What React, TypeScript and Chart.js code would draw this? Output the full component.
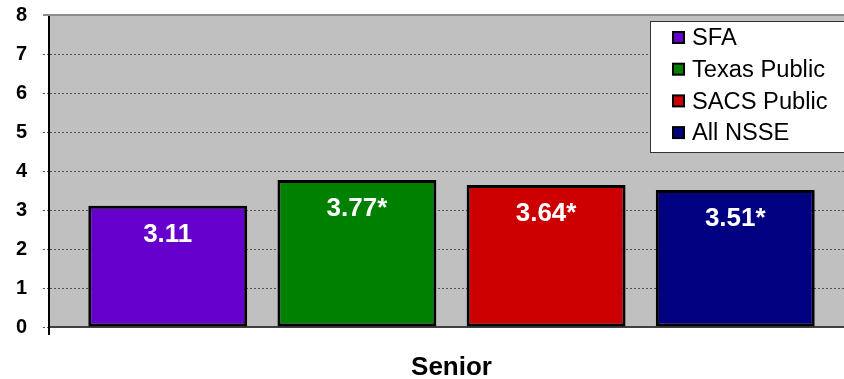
import React, { useEffect, useRef } from 'react';
import { Chart, registerables } from 'chart.js';

Chart.register(...registerables);

const categories = ['Senior'];
const seriesNames = ['SFA', 'Texas Public', 'SACS Public', 'All NSSE'];
const seriesValues = [3.11, 3.77, 3.64, 3.51];
const significant = [false, true, true, true];
const seriesColors = ['#6600CC', '#008000', '#CC0000', '#000080'];
const yMin = 0;
const yMax = 8;
const yStep = 1;

const FONT = '"Liberation Sans", Arial, Helvetica, sans-serif';

const plotPlugin = {
  id: 'plotDecor',
  beforeDraw(chart: any) {
    const { ctx, chartArea: a } = chart;
    ctx.save();
    ctx.fillStyle = '#C0C0C0';
    ctx.fillRect(a.left, a.top, a.right - a.left, a.bottom - a.top);
    ctx.restore();
  },
  afterDatasetsDraw(chart: any) {
    const { ctx, chartArea: a } = chart;
    ctx.save();
    // top border of plot
    ctx.strokeStyle = '#8C8C8C';
    ctx.lineWidth = 2;
    ctx.beginPath();
    ctx.moveTo(a.left - 6, a.top);
    ctx.lineTo(a.right, a.top);
    ctx.stroke();

    // value labels
    ctx.fillStyle = '#FFFFFF';
    ctx.font = `bold 25px ${FONT}`;
    ctx.textAlign = 'center';
    ctx.textBaseline = 'middle';
    chart.data.datasets.forEach((ds: any, i: number) => {
      const meta = chart.getDatasetMeta(i);
      meta.data.forEach((el: any, j: number) => {
        const v = ds.data[j];
        const txt = v.toFixed(2) + (significant[i] ? '*' : '');
        ctx.save();
        ctx.translate(el.x, el.y + 29);
        ctx.scale(1.04, 1);
        ctx.fillText(txt, 0, 0);
        ctx.restore();
      });
    });

    // legend
    const x0 = 650;
    const y0 = 21;
    const h = 131;
    ctx.fillStyle = '#FFFFFF';
    ctx.fillRect(x0, y0, chart.width - x0 + 20, h);
    ctx.strokeStyle = '#333333';
    ctx.lineWidth = 1;
    ctx.strokeRect(x0 + 0.5, y0 + 0.5, chart.width, h);
    ctx.font = `23px ${FONT}`;
    ctx.textAlign = 'left';
    ctx.textBaseline = 'middle';
    chart.data.datasets.forEach((ds: any, i: number) => {
      const cy = 38 + i * 31.7;
      ctx.fillStyle = ds.backgroundColor;
      ctx.fillRect(673, cy - 6, 11, 11);
      ctx.strokeStyle = '#000000';
      ctx.lineWidth = 2;
      ctx.strokeRect(673, cy - 6, 11, 11);
      ctx.fillStyle = '#000000';
      ctx.save();
      ctx.translate(692, cy + 1);
      ctx.scale(1.03, 1);
      ctx.fillText(ds.label, 0, 0);
      ctx.restore();
    });
    ctx.restore();
  },
};

export default function App() {
  const ref = useRef<HTMLCanvasElement>(null);
  useEffect(() => {
    if (!ref.current) return;
    const chart = new Chart(ref.current, {
      type: 'bar',
      data: {
        labels: categories,
        datasets: seriesNames.map((name, i) => ({
          label: name,
          data: [seriesValues[i]],
          backgroundColor: seriesColors[i],
          borderColor: '#000000',
          borderWidth: 3,
          borderSkipped: false,
          categoryPercentage: 0.94,
          barPercentage: 0.84,
        })),
      },
      options: {
        responsive: false,
        animation: false,
        layout: { padding: { top: 15, left: 0, right: 7, bottom: 0 } },
        plugins: {
          legend: { display: false },
          tooltip: { enabled: false },
        },
        scales: {
          x: {
            offset: true,
            afterFit: (s: any) => {
              s.height = 52;
              s.paddingLeft = 0;
              s.paddingRight = 0;
            },
            grid: {
              display: true,
              drawOnChartArea: false,
              drawTicks: true,
              tickLength: 8,
              color: '#000000',
              lineWidth: 2,
            },
            border: { display: true, color: '#404040', width: 2 },
            ticks: {
              color: '#000000',
              font: { family: FONT, size: 26, weight: 'bold' },
              padding: 17,
            },
          },
          y: {
            min: yMin,
            max: yMax,
            afterFit: (s: any) => {
              s.width = 49;
              s.paddingTop = 0;
              s.paddingBottom = 0;
            },
            ticks: {
              stepSize: yStep,
              color: '#000000',
              font: { family: FONT, size: 20, weight: 'bold' },
              padding: 16,
            },
            grid: {
              color: (c: any) =>
                c.tick && (c.tick.value === yMin || c.tick.value === yMax) ? 'rgba(0,0,0,0)' : '#505050',
              tickColor: '#505050',
              lineWidth: 1,
              tickLength: 6,
              tickBorderDash: [2, 2],
            },
            border: { display: true, color: '#000000', width: 2, dash: [2, 2] },
          },
        },
      },
      plugins: [plotPlugin],
    } as any);
    return () => chart.destroy();
  }, []);

  return (
    <div
      style={{
        position: 'fixed',
        left: 0,
        top: 0,
        width: 844,
        height: 379,
        overflow: 'hidden',
        background: '#FFFFFF',
      }}
    >
      <canvas ref={ref} width={861} height={379} style={{ display: 'block' }} />
    </div>
  );
}
